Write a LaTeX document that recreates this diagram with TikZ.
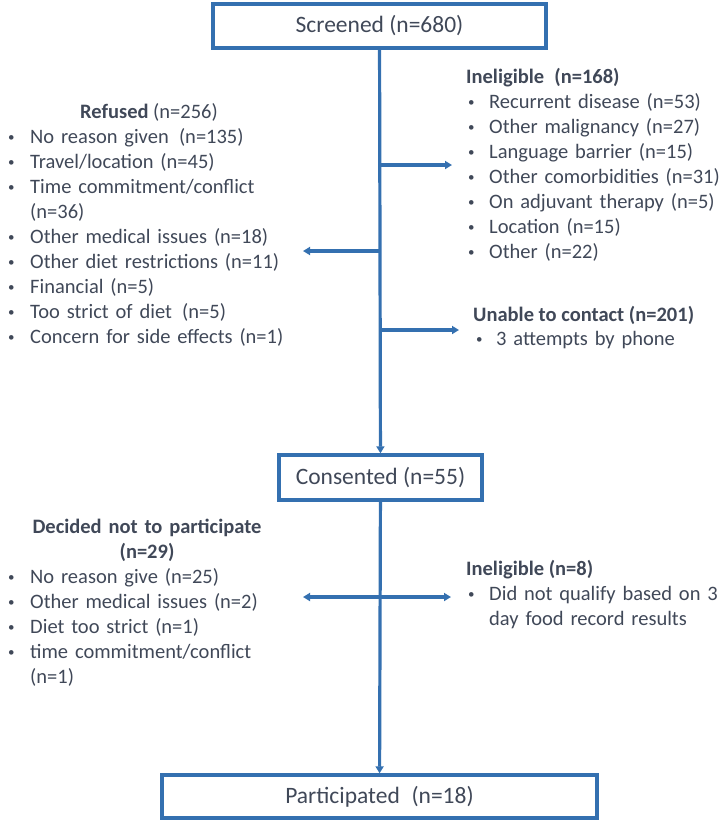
\documentclass[tikz,border=0pt]{standalone}
\usepackage{fontspec}
\setmainfont{Carlito}
\usetikzlibrary{arrows.meta}
\definecolor{flowblue}{RGB}{52,112,176}
\definecolor{flowtext}{RGB}{64,72,88}
\newcommand{\bul}[1]{\makebox[#1pt][l]{\raisebox{1.5pt}{\fontsize{13}{13}\selectfont\textbullet}}}
\tikzset{
  box/.style={draw=flowblue, line width=3.4pt, inner sep=0pt, font=\fontsize{23.5}{26}\selectfont},
  flow/.style={draw=flowblue, line width=3.2pt, -{Triangle[length=7pt,width=8pt]}},
  both/.style={draw=flowblue, line width=3.2pt, {Triangle[length=7pt,width=8pt]}-{Triangle[length=7pt,width=8pt]}},
  lst/.style={inner sep=0pt, anchor=base west, align=left, text width=#1pt, font=\fontsize{20.5}{25}\selectfont},
  ttl/.style={inner sep=0pt, font=\fontsize{20.5}{25}\selectfont}
}
\begin{document}
\begin{tikzpicture}[x=1pt, y=-1pt, color=flowtext]
  \useasboundingbox (0,0) rectangle (723,820);
  \node[box, minimum width=333pt, minimum height=44pt] (scr) at (379.5,26) {Screened (n=680)};
  \node[box, minimum width=203pt, minimum height=45pt] (con) at (380.5,477.5) {Consented (n=55)};
  \node[box, minimum width=435pt, minimum height=43pt] (par) at (379.5,796.5) {Participated\enspace(n=18)};
  \draw[flow] (scr) -- (con);
  \draw[flow] (con) -- (par);
  % after screening
  \node[ttl, anchor=base] (refT) at (149,118) {\textbf{Refused} (n=256)};
  \node[lst=310] (refL) at (8,143) {\bul{22}No reason given\enspace(n=135)\\
    \bul{22}Travel/location (n=45)\\
    \bul{22}Time commitment/conflict\\
    \hspace*{22pt}(n=36)\\
    \bul{22}Other medical issues (n=18)\\
    \bul{22}Other diet restrictions (n=11)\\
    \bul{22}Financial (n=5)\\
    \bul{22}Too strict of diet\enspace(n=5)\\
    \bul{22}Concern for side effects (n=1)};
  \node[ttl, anchor=base west] (ineT) at (466,83) {\textbf{Ineligible\enspace(n=168)}};
  \node[lst=290] (ineL) at (468,108) {\bul{21}Recurrent disease (n=53)\\
    \bul{21}Other malignancy (n=27)\\
    \bul{21}Language barrier (n=15)\\
    \bul{21}Other comorbidities (n=31)\\
    \bul{21}On adjuvant therapy (n=5)\\
    \bul{21}Location (n=15)\\
    \bul{21}Other (n=22)};
  \node[ttl, anchor=base west] (unaT) at (473,321) {\textbf{Unable to contact (n=201)}};
  \node[lst=280] (unaL) at (476,345) {\bul{20}3 attempts by phone};
  \coordinate (j1) at (380,165);  \coordinate (e1) at (452,165);
  \coordinate (j2) at (380,251);  \coordinate (e2) at (303,251);
  \coordinate (j3) at (380,330);  \coordinate (e3) at (459,330);
  \draw[flow] (j1) -- (e1);
  \draw[flow] (j2) -- (e2);
  \draw[flow] (j3) -- (e3);
  % after consent
  \node[ttl, anchor=base, align=center, text width=290pt] (decT) at (147,533) {\textbf{Decided not to participate}\\\textbf{(n=29)}};
  \node[lst=310] (decL) at (8,583) {\bul{22}No reason give (n=25)\\
    \bul{22}Other medical issues (n=2)\\
    \bul{22}Diet too strict (n=1)\\
    \bul{22}time commitment/conflict\\
    \hspace*{22pt}(n=1)};
  \node[ttl, anchor=base west] (in8T) at (466,575) {\textbf{Ineligible (n=8)}};
  \node[lst=290] (in8L) at (468,600) {\bul{21}Did not qualify based on 3\\
    \hspace*{21pt}day food record results};
  \coordinate (dl) at (303,597);  \coordinate (dr) at (451,597);
  \draw[both] (dl) -- (dr);
\end{tikzpicture}
\end{document}
